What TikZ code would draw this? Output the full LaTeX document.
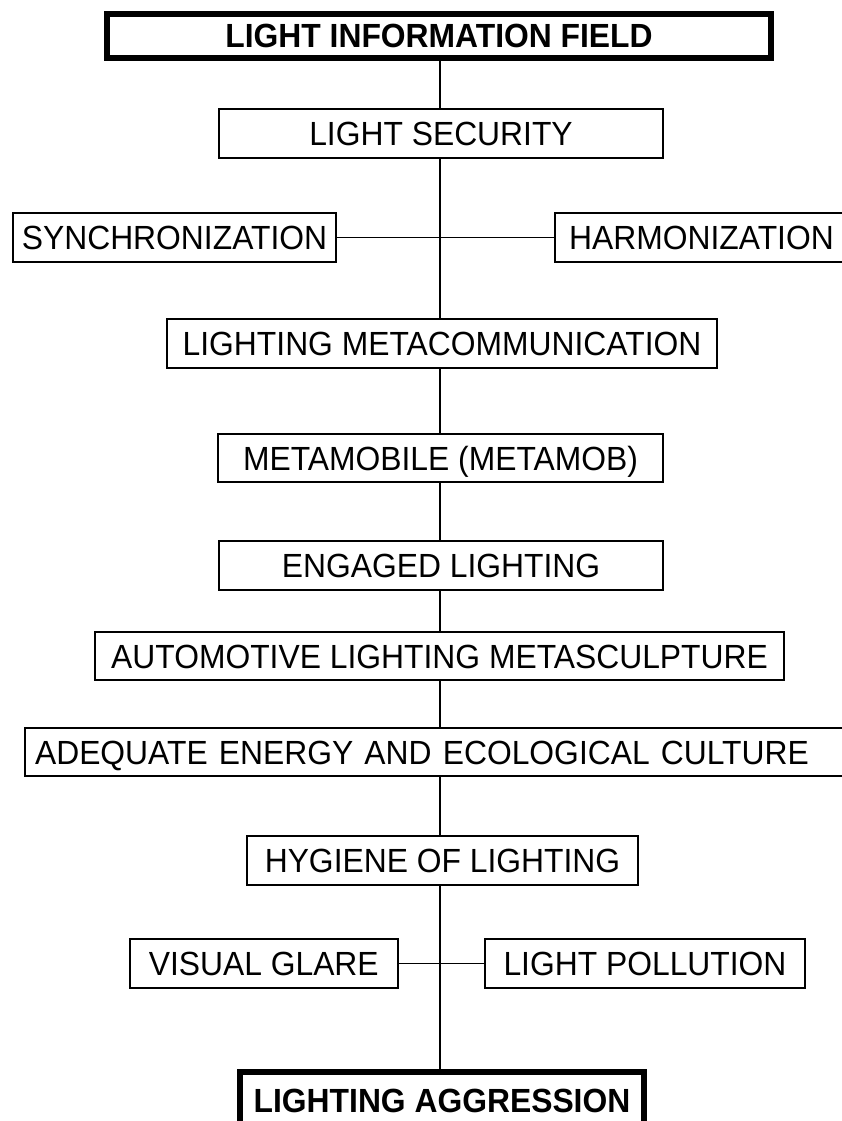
\documentclass[tikz,border=0pt]{standalone}
\usepackage{fontspec}
\setmainfont{Liberation Sans}[FakeStretch=0.95]
\begin{document}
\begin{tikzpicture}[x=1pt,y=-1pt,
  box/.style={draw=black, fill=white, line width=1.6pt, inner sep=0pt,
    text height=24pt, text depth=0pt, font=\fontsize{33.5}{40}\selectfont},
  mainbox/.style={box, line width=5.8pt, font=\fontsize{33.5}{40}\selectfont\bfseries},
  link/.style={draw=black, line width=1.6pt}]
\useasboundingbox (0,0) rectangle (842,1121);
\fill[white] (0,0) rectangle (842,1121);
\clip (0,0) rectangle (842,1121);

\node[mainbox, minimum width=664pt, minimum height=44pt] (top) at (439,36) {LIGHT INFORMATION FIELD};
\node[box, minimum width=444.5pt, minimum height=49.5pt] (sec) at (441,133.5) {LIGHT SECURITY};
\node[box, minimum width=323.5pt, minimum height=49.5pt] (sync) at (174.5,237.5) {SYNCHRONIZATION};
\node[box, minimum width=293.5pt, minimum height=49.5pt] (harm) at (701.5,237.5) {HARMONIZATION};
\node[box, minimum width=550.5pt, minimum height=49.5pt] (meta) at (442,343.5) {LIGHTING METACOMMUNICATION};
\node[box, minimum width=445.5pt, minimum height=48.5pt] (mob) at (440.5,458) {METAMOBILE (METAMOB)};
\node[box, minimum width=444.5pt, minimum height=49.5pt] (eng) at (441,565.5) {ENGAGED LIGHTING};
\node[box, minimum width=689.5pt, minimum height=48.5pt] (auto) at (439.5,656) {AUTOMOTIVE LIGHTING METASCULPTURE};
\node[box, anchor=west, inner xsep=10.25pt, text width=805pt, align=left, minimum height=48.5pt] (eco) at (24,752) {ADEQUATE ENERGY AND ECOLOGICAL CULTURE};
\node[box, minimum width=391.5pt, minimum height=49.5pt] (hyg) at (442.5,860.5) {HYGIENE OF LIGHTING};
\node[box, minimum width=268pt, minimum height=49.5pt] (glare) at (263.75,963.5) {VISUAL GLARE};
\node[box, minimum width=320.5pt, minimum height=49.5pt] (poll) at (645,963.5) {LIGHT POLLUTION};
\node[mainbox, minimum width=404pt, minimum height=56pt] (aggr) at (442,1100) {LIGHTING AGGRESSION};

\coordinate (axis) at (440,0);
\path[link] (axis |- top.south) -- (axis |- sec.north);
\path[link] (axis |- sec.south) -- (axis |- meta.north);
\path[link] (sync.east) -- (harm.west);
\path[link] (axis |- meta.south) -- (axis |- mob.north);
\path[link] (axis |- mob.south) -- (axis |- eng.north);
\path[link] (axis |- eng.south) -- (axis |- auto.north);
\path[link] (axis |- auto.south) -- (axis |- eco.north);
\path[link] (axis |- eco.south) -- (axis |- hyg.north);
\path[link] (axis |- hyg.south) -- (axis |- aggr.north);
\path[link] (glare.east) -- (poll.west);
\end{tikzpicture}
\end{document}
